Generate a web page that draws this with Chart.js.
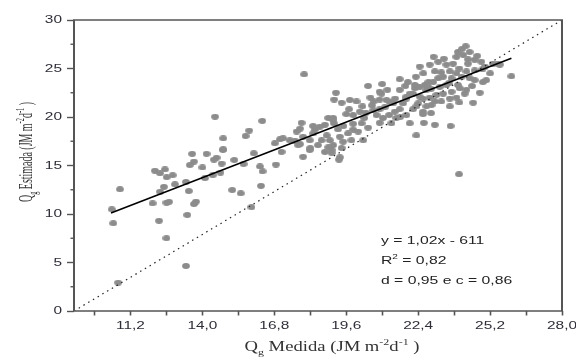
<!DOCTYPE html>
<html>
<head>
<meta charset="utf-8">
<script src="https://cdn.jsdelivr.net/npm/chart.js@4.4.0/dist/chart.umd.min.js"></script>
<style>
  html, body { margin: 0; padding: 0; background: #fff; }
</style>
</head>
<body>
<canvas id="qgChart" width="576" height="361"></canvas>
<script>
// [Qg medida, Qg estimada]
const pontos = [
  [10.47, 10.48], [10.53, 9.04], [10.79, 12.55], [10.72, 2.92], [12.15, 14.46], [12.35, 14.2],
  [12.54, 14.6], [12.84, 14.0], [12.61, 13.8], [12.5, 12.8], [12.35, 12.3], [12.93, 13.06],
  [12.06, 11.1], [12.6, 11.17], [12.7, 11.25], [12.31, 9.3], [12.6, 7.5], [13.36, 13.3],
  [13.47, 12.37], [13.75, 11.27], [13.67, 11.03], [13.41, 9.9], [13.36, 4.64], [13.6, 16.2],
  [13.67, 15.4], [13.51, 15.05], [14.16, 16.2], [14.55, 15.8], [14.45, 15.6], [14.0, 14.8],
  [14.1, 13.7], [14.75, 15.2], [14.7, 14.26], [14.4, 14.0], [14.8, 16.6], [15.24, 15.57],
  [15.6, 15.15], [16.0, 16.26], [15.16, 12.47], [15.49, 12.13], [15.91, 10.7], [16.28, 12.9],
  [16.24, 14.9], [16.34, 14.4], [16.86, 15.1], [17.08, 16.4], [17.92, 15.9],
  [14.49, 20.03], [14.81, 17.8], [14.81, 16.67], [15.68, 18.04], [15.82, 18.6], [16.33, 19.6],
  [16.82, 17.29], [17.02, 17.7], [17.14, 17.8], [17.4, 17.6], [17.6, 17.56], [17.73, 17.1],
  [17.67, 18.5], [17.8, 18.8], [17.86, 19.4], [17.96, 24.4], [17.92, 17.97], [18.18, 17.6],
  [18.31, 19.07], [18.38, 18.7], [18.2, 16.8], [18.5, 17.1], [18.31, 18.3], [17.8, 17.2],
  [18.18, 16.6],
  [20.45, 23.2], [21.68, 23.9], [22.31, 24.15], [19.2, 22.5], [19.13, 21.8], [19.42, 21.47],
  [19.74, 21.75], [20.23, 21.1], [20.54, 22.0], [20.97, 22.4], [20.9, 21.8], [20.67, 21.6],
  [21.3, 21.5], [21.1, 21.0], [19.71, 20.8], [19.87, 20.2], [20.13, 20.55], [20.36, 20.45],
  [20.65, 20.7], [20.9, 20.8], [20.78, 20.2], [21.03, 19.9], [21.27, 20.2], [21.49, 20.55],
  [21.68, 20.8], [21.55, 19.9], [21.81, 21.4], [21.94, 21.9], [22.07, 22.4], [22.27, 22.96],
  [22.46, 23.1], [22.66, 23.3], [22.72, 22.8], [22.59, 21.9], [22.4, 21.4], [22.2, 20.8],
  [21.94, 20.2], [20.9, 19.4], [21.36, 19.35], [22.07, 19.35], [22.62, 19.4], [22.33, 18.1],
  [20.45, 18.9], [20.2, 19.35], [19.87, 19.3], [19.87, 18.7], [20.06, 18.5], [20.26, 17.6],
  [19.49, 19.07], [19.28, 18.73], [19.67, 18.3], [19.8, 17.6], [19.09, 19.9], [19.12, 19.35],
  [18.9, 19.9], [18.77, 19.2], [18.57, 19.0], [18.84, 18.1], [18.64, 17.6], [18.96, 17.6],
  [19.35, 17.97], [19.48, 17.45], [19.09, 17.1], [18.9, 16.87], [19.42, 16.8], [18.77, 16.4],
  [19.03, 16.6], [19.35, 15.85], [19.03, 16.3], [19.32, 15.6],
  [24.25, 27.3], [23.95, 26.7], [23.89, 26.2], [24.15, 26.4], [24.4, 26.7], [24.34, 25.95],
  [24.6, 25.9], [24.86, 25.7], [23.76, 25.5], [23.5, 25.4], [23.18, 25.7], [22.85, 25.4],
  [22.46, 25.2], [23.05, 24.7], [23.63, 24.7], [23.89, 24.5], [24.28, 24.7], [24.09, 24.15],
  [24.41, 24.0], [24.92, 23.6], [25.05, 23.8], [25.31, 25.5], [25.51, 25.5], [25.58, 25.4],
  [26.03, 24.2], [24.54, 21.47], [23.63, 21.1], [23.05, 19.2], [23.66, 19.07], [23.5, 23.3],
  [23.24, 23.1], [23.37, 22.4], [23.7, 22.6], [24.02, 22.96], [24.21, 22.4], [23.89, 22.0],
  [23.63, 21.9], [22.98, 23.6], [22.79, 23.1], [23.18, 24.0], [22.27, 23.3], [22.0, 23.6],
  [20.9, 22.6], [19.09, 19.7], [21.68, 22.8], [21.94, 22.1], [22.46, 22.1], [22.85, 22.0],
  [23.05, 21.6], [22.72, 21.1], [22.33, 21.1], [21.17, 21.75], [21.42, 21.4],
  [24.6, 23.8], [22.59, 20.55], [22.92, 21.24], [23.11, 22.27], [24.28, 22.8], [23.95, 23.3],
  [23.37, 24.15], [24.34, 25.5], [22.59, 20.3], [23.99, 14.1],
  [23.3, 24.6], [23.7, 24.0], [24.0, 25.0], [24.6, 24.8], [22.9, 22.9], [22.2, 22.4],
  [21.5, 21.9], [22.8, 23.6], [24.5, 23.2], [23.6, 23.5], [24.9, 24.9], [25.0, 25.2],
  [24.7, 26.3], [23.4, 26.0], [22.6, 24.5], [21.9, 23.2], [21.2, 22.8], [20.6, 21.2],
  [20.0, 21.6], [19.6, 20.3], [20.3, 19.9], [21.7, 20.0], [22.9, 20.4], [23.3, 21.6],
  [24.0, 21.5], [24.8, 22.5], [25.2, 24.5], [23.0, 26.2], [24.1, 27.0], [21.0, 23.4]
];

// ajuste linear e reta 1:1 (canto a canto)
const retaAjusteX = [10.44, 26.03];
const retaAjusteY = [10.1, 26.05];
const diagonalX = [9.0, 28.0];
const diagonalY = [0, 30];

const xMin = 9.0, xMax = 28.0;
const xTickValues = [9.8, 11.2, 12.6, 14.0, 15.4, 16.8, 18.2, 19.6, 21.0, 22.4, 23.8, 25.2, 26.6, 28.0];
const xTickLabels = ['', '11,2', '', '14,0', '', '16,8', '', '19,6', '', '22,4', '', '25,2', '', '28,0'];
const yTickValues = [0, 5, 10, 15, 20, 25, 30];
const yTickLabels = ['0', '5', '10', '15', '20', '25', '30'];
const yMinorTicks = [2.5, 7.5, 12.5, 17.5, 22.5, 27.5];

const estatisticas = [
  [['y = 1,02x - 611', 'n']],
  [['R', 'n'], ['2', 'sup'], [' = 0,82', 'n']],
  [['d = 0,95 e c = 0,86', 'n']]
];
const tituloX = [['Q', 'n'], ['g', 'sub'], [' Medida (JM m', 'n'], ['-2', 'sup'], ['d', 'n'], ['-1', 'sup'], [' )', 'n']];
const tituloY = [['Q', 'n'], ['g', 'sub'], [' Estimada (JM m', 'n'], ['-2', 'sup'], ['d', 'n'], ['-1', 'sup'], [' )', 'n']];

const INK = '#2e2e38';
const FRAME = '#555555';
const SANS = '"Liberation Sans", Arial, sans-serif';
const SERIF = '"Liberation Serif", "Times New Roman", serif';

// marcador eliptico (a figura original esta esticada na horizontal)
function makeDot(color) {
    const c = document.createElement('canvas');
    c.width = 8;
    c.height = 6;
    const g = c.getContext('2d');
    g.fillStyle = color;
    g.beginPath();
    g.ellipse(4, 3, 3.9, 2.9, 0, 0, Math.PI * 2);
    g.fill();
    return c;
}

function richWidth(ctx, parts, size, family) {
    let w = 0;
    for (const [t, k] of parts) {
        ctx.font = (k === 'n' ? size : Math.round(size * 0.65)) + 'px ' + family;
        w += ctx.measureText(t).width;
    }
    return w;
}

function richText(ctx, parts, x, y, size, family) {
    let cx = x;
    for (const [t, k] of parts) {
        ctx.font = (k === 'n' ? size : Math.round(size * 0.65)) + 'px ' + family;
        const dy = k === 'sup' ? -size * 0.42 : k === 'sub' ? size * 0.28 : 0;
        ctx.fillText(t, cx, y + dy);
        cx += ctx.measureText(t).width;
    }
}

const moldura = {
    id: 'moldura',
    afterDraw(chart) {
        const { ctx, chartArea: a } = chart;
        const sx = chart.scales.x, sy = chart.scales.y;
        ctx.save();

        ctx.strokeStyle = FRAME;
        ctx.lineWidth = 2;
        ctx.beginPath();
        ctx.moveTo(a.left, a.top); ctx.lineTo(a.left, a.bottom);
        ctx.moveTo(a.right, a.top); ctx.lineTo(a.right, a.bottom);
        ctx.stroke();
        ctx.lineWidth = 1.4;
        ctx.beginPath();
        ctx.moveTo(a.left - 1, a.top); ctx.lineTo(a.right + 1, a.top);
        ctx.moveTo(a.left - 1, a.bottom); ctx.lineTo(a.right + 1, a.bottom);
        ctx.stroke();

        yMinorTicks.forEach(v => {
            const py = sy.getPixelForValue(v);
            ctx.beginPath();
            ctx.moveTo(a.left - 3.5, py);
            ctx.lineTo(a.left, py);
            ctx.stroke();
        });

        // rotulos dos ticks
        ctx.fillStyle = INK;
        ctx.font = '11px ' + SANS;
        ctx.textBaseline = 'middle';
        ctx.textAlign = 'center';
        xTickValues.forEach((v, i) => {
            if (!xTickLabels[i]) return;
            ctx.save();
            ctx.translate(sx.getPixelForValue(v), a.bottom + 15);
            ctx.scale(1.4, 1);
            ctx.fillText(xTickLabels[i], 0, 0);
            ctx.restore();
        });
        ctx.textAlign = 'right';
        yTickValues.forEach((v, i) => {
            ctx.save();
            ctx.translate(a.left - 12, sy.getPixelForValue(v));
            ctx.scale(1.4, 1);
            ctx.fillText(yTickLabels[i], 0, 0);
            ctx.restore();
        });

        // titulos dos eixos
        ctx.textBaseline = 'alphabetic';
        ctx.textAlign = 'left';
        ctx.fillStyle = '#333';
        let w = richWidth(ctx, tituloX, 14, SERIF);
        ctx.save();
        ctx.translate(332, 351);
        ctx.scale(175 / w, 1);
        richText(ctx, tituloX, -w / 2, 0, 14, SERIF);
        ctx.restore();

        w = richWidth(ctx, tituloY, 14, SERIF);
        ctx.save();
        ctx.translate(31.5, 152);
        ctx.rotate(-Math.PI / 2);
        ctx.scale(100 / w, 1.35);
        richText(ctx, tituloY, -w / 2, 0, 14, SERIF);
        ctx.restore();

        // equacao e indices
        ctx.fillStyle = '#222';
        estatisticas.forEach((linha, i) => {
            ctx.save();
            ctx.translate(381, 243.5 + i * 20);
            ctx.scale(1.43, 1);
            richText(ctx, linha, 0, 0, 11, SANS);
            ctx.restore();
        });

        ctx.restore();
    }
};

new Chart(document.getElementById('qgChart'), {
    type: 'scatter',
    data: {
        datasets: [
            {
                type: 'line',
                label: 'Ajuste',
                data: retaAjusteX.map((x, i) => ({ x: x, y: retaAjusteY[i] })),
                borderColor: '#000',
                borderWidth: 1.6,
                pointRadius: 0,
                showLine: true,
                order: 0
            },
            {
                type: 'line',
                label: '1:1',
                data: diagonalX.map((x, i) => ({ x: x, y: diagonalY[i] })),
                borderColor: '#222',
                borderWidth: 1.2,
                borderDash: [1.5, 4],
                pointRadius: 0,
                showLine: true,
                order: 1
            },
            {
                label: 'Qg',
                data: pontos.map(p => ({ x: p[0], y: p[1] })),
                pointStyle: makeDot('#8c8c8c'),
                pointRadius: 4,
                order: 2
            }
        ]
    },
    options: {
        responsive: false,
        animation: false,
        layout: {
            padding: { top: 20, right: 14, left: 0, bottom: 0 }
        },
        plugins: {
            legend: { display: false },
            tooltip: { enabled: false }
        },
        scales: {
            x: {
                type: 'linear',
                min: xMin,
                max: xMax,
                afterBuildTicks: scale => {
                    scale.ticks = xTickValues.map(v => ({ value: v }));
                },
                afterFit: scale => { scale.height = 50; },
                ticks: { display: false },
                border: { display: false },
                grid: {
                    drawOnChartArea: false,
                    tickLength: 4.5,
                    tickColor: FRAME,
                    tickWidth: 1.6
                }
            },
            y: {
                min: 0,
                max: 30,
                afterBuildTicks: scale => {
                    scale.ticks = yTickValues.map(v => ({ value: v }));
                },
                afterFit: scale => { scale.width = 74; },
                ticks: { display: false },
                border: { display: false },
                grid: {
                    drawOnChartArea: false,
                    tickLength: 7,
                    tickColor: FRAME,
                    tickWidth: 1.4
                }
            }
        }
    },
    plugins: [moldura]
});
</script>
</body>
</html>
